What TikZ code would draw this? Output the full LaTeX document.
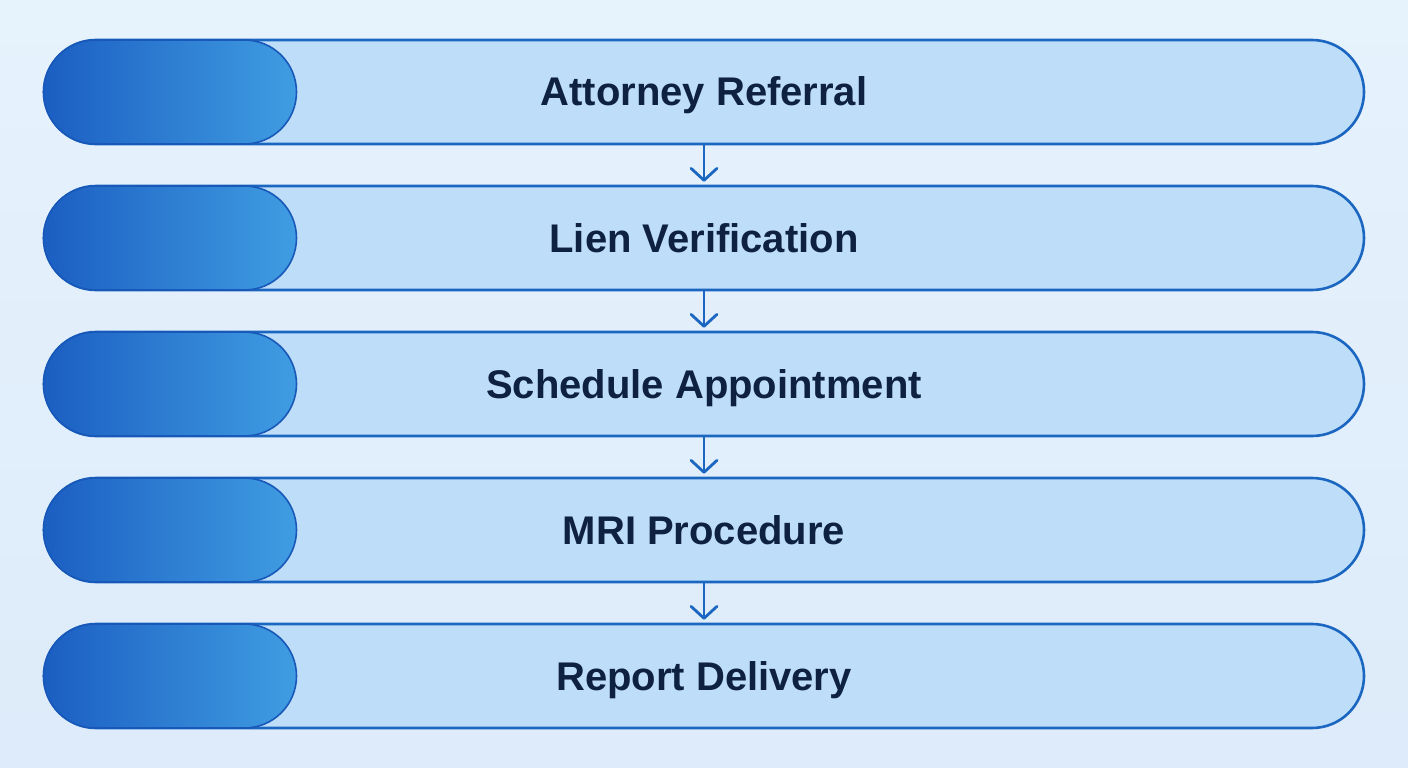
\documentclass[tikz,border=0pt]{standalone}
\usepackage{fontspec}
\setmainfont{Liberation Sans}
\usetikzlibrary{arrows.meta}
\definecolor{bgA}{HTML}{E6F2FC}
\definecolor{bgB}{HTML}{DDEBFA}
\definecolor{pillfill}{HTML}{BDDDF8}
\definecolor{pillline}{HTML}{1A66C0}
\definecolor{capL}{HTML}{1B5EC2}
\definecolor{capR}{HTML}{409DE2}
\definecolor{capline}{HTML}{1858B8}
\definecolor{txt}{HTML}{0F2141}
\tikzset{
  pill/.style={draw=pillline, line width=2.6pt, fill=pillfill, rounded corners=52pt,
    minimum width=1320pt, minimum height=104pt, inner sep=0pt},
  capbox/.style={draw=capline, line width=1.6pt, left color=capL, right color=capR,
    rounded corners=52pt, minimum width=253pt, minimum height=104pt, inner sep=0pt, anchor=west},
  lbl/.style={text=txt, anchor=base, inner sep=0pt, font=\fontsize{40}{46}\selectfont\bfseries},
  flow/.style={draw=pillline, line width=2.8pt, -{Straight Barb[length=12pt,width=26pt,line width=2.8pt,round]}, shorten >=3pt}
}
\begin{document}
\begin{tikzpicture}[x=1pt,y=-1pt]
\useasboundingbox (0,0) rectangle (1408,768);
\shade[top color=bgA, bottom color=bgB] (0,0) rectangle (1408,768);
\foreach \n/\y/\t in {1/92/Attorney Referral,2/238/Lien Verification,3/384/Schedule Appointment,4/530/MRI Procedure,5/676/Report Delivery}{
  \node[pill] (r\n) at (704,\y) {};
  \node[capbox] (c\n) at (r\n.west) {};
  \node[lbl] (t\n) at (704,\y+14) {\t};
}
\draw[flow] (r1.south) -- (r2.north);
\draw[flow] (r2.south) -- (r3.north);
\draw[flow] (r3.south) -- (r4.north);
\draw[flow] (r4.south) -- (r5.north);
\end{tikzpicture}
\end{document}
